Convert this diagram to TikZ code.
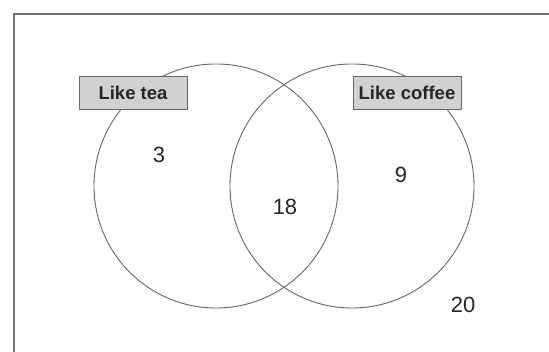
\documentclass[tikz,border=0pt]{standalone}
\usepackage{fontspec}
\setmainfont{Liberation Sans}
\begin{document}
\begin{tikzpicture}[x=1pt,y=-1pt,
        setring/.style={draw=black!60, line width=0.9pt, circle, minimum size=244pt, inner sep=0pt},
        setlabel/.style={draw=black!60, fill=black!18, line width=0.8pt, text=black!85,
            font=\fontsize{18.5}{21}\selectfont\bfseries, minimum width=108pt, minimum height=33pt, inner sep=0pt},
        count/.style={font=\fontsize{22}{26}\selectfont, text=black!85}]
    \useasboundingbox (0,0) rectangle (549,352);
    \draw[black!55, line width=1.5pt] (14,352) -- (14,14) -- (549,14);
    \node[setring] (tea) at (216,186) {};
    \node[setring] (coffee) at (352,186) {};
    \node[setlabel] (tealabel) at (133,92.5) {Like tea};
    \node[setlabel] (coffeelabel) at (407,92.5) {Like coffee};
    \node[count] (onlytea) at (159,155) {3};
    \node[count] (both) at (285,206.5) {18};
    \node[count] (onlycoffee) at (401,175) {9};
    \node[count] (neither) at (463,305) {20};
\end{tikzpicture}
\end{document}
